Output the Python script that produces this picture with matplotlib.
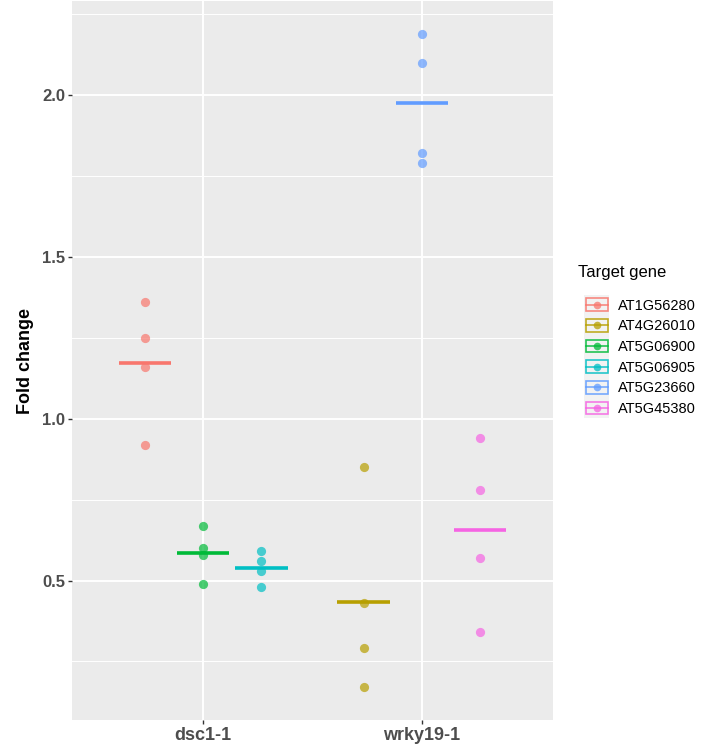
import numpy as np
import matplotlib.pyplot as plt
from matplotlib.legend_handler import HandlerBase
from matplotlib.patches import Rectangle
from matplotlib.lines import Line2D

plt.rcParams['font.family'] = ['Liberation Sans', 'DejaVu Sans']

# genotypes on the x axis
genotypes = ['dsc1-1', 'wrky19-1']

# target genes (legend order), their colours and genotype
genes = ['AT1G56280', 'AT4G26010', 'AT5G06900', 'AT5G06905', 'AT5G23660', 'AT5G45380']
gene_colors = ['#F8766D', '#B79F00', '#00BA38', '#00BFC4', '#619CFF', '#F564E3']
gene_genotype = ['dsc1-1', 'wrky19-1', 'dsc1-1', 'dsc1-1', 'wrky19-1', 'wrky19-1']

# fold change replicates
fc_AT1G56280 = [1.36, 1.25, 1.16, 0.92]
fc_AT4G26010 = [0.85, 0.43, 0.29, 0.17]
fc_AT5G06900 = [0.67, 0.60, 0.58, 0.49]
fc_AT5G06905 = [0.59, 0.56, 0.53, 0.48]
fc_AT5G23660 = [2.19, 2.10, 1.82, 1.79]
fc_AT5G45380 = [0.94, 0.78, 0.57, 0.34]
fold_change = [fc_AT1G56280, fc_AT4G26010, fc_AT5G06900,
               fc_AT5G06905, fc_AT5G23660, fc_AT5G45380]

PANEL = '#EBEBEB'


class CrossbarKey(HandlerBase):
    # ggplot-like key: grey square, outlined crossbar and a dot
    def create_artists(self, legend, orig_handle, xdescent, ydescent,
                       width, height, fontsize, trans):
        c = orig_handle.get_color()
        x0, y0 = -xdescent, -ydescent
        bg = Rectangle((x0, y0 - 2), width, height + 4, facecolor='#F2F2F2',
                       edgecolor='none', transform=trans)
        box = Rectangle((x0 + 1, y0 + height * 0.08), width - 2, height * 0.84,
                        facecolor='none', edgecolor=c, lw=1.2, alpha=0.85,
                        transform=trans)
        mid = Line2D([x0 + 1, x0 + width - 1], [y0 + height / 2] * 2, color=c,
                     lw=1.2, alpha=0.85, transform=trans)
        dot = Line2D([x0 + width / 2], [y0 + height / 2], marker='o', ms=5.5,
                     color=c, mec='none', alpha=0.75, transform=trans)
        return [bg, box, mid, dot]


fig = plt.figure(figsize=(7.09, 7.47), dpi=100)
ax = fig.add_axes([72 / 709, 1 - 720 / 747, (553 - 72) / 709, 719 / 747])
ax.set_facecolor(PANEL)

dodge = 0.8
bar_w = 0.24
handles = []
for gi, g in enumerate(genes):
    geno = gene_genotype[gi]
    group = [h for h, gg in zip(genes, gene_genotype) if gg == geno]
    n = len(group)
    k = group.index(g)
    xc = genotypes.index(geno) + 1 + (k - (n - 1) / 2) * dodge / n
    vals = np.array(fold_change[gi])
    ax.scatter(np.full(len(vals), xc), vals, s=44, color=gene_colors[gi],
               alpha=0.7, linewidths=0, zorder=3)
    ax.hlines(vals.mean(), xc - bar_w / 2, xc + bar_w / 2, color=gene_colors[gi],
              lw=2.6, zorder=4, capstyle='butt')
    handles.append(Line2D([], [], color=gene_colors[gi], label=g))

ax.set_xlim(0.4, 2.6)
ax.set_ylim(0.069, 2.291)
ax.set_xticks([1, 2])
ax.set_xticklabels(genotypes)
ax.set_yticks([0.5, 1.0, 1.5, 2.0])
ax.set_yticklabels(['0.5', '1.0', '1.5', '2.0'])
ax.set_yticks([0.25, 0.75, 1.25, 1.75, 2.25], minor=True)
ax.grid(True, which='major', color='white', lw=1.4)
ax.grid(True, which='minor', axis='y', color='white', lw=0.7)
ax.set_axisbelow(True)
for s in ax.spines.values():
    s.set_visible(False)
ax.tick_params(axis='both', which='major', length=3, width=1, color='#333333',
               pad=2)
ax.tick_params(axis='x', labelsize=13, labelcolor='#4D4D4D')
ax.tick_params(axis='y', labelsize=12, labelcolor='#4D4D4D')
ax.tick_params(which='minor', length=0)
for t in ax.get_xticklabels() + ax.get_yticklabels():
    t.set_fontweight('bold')

ax.set_ylabel('Fold change', fontsize=13, fontweight='bold', labelpad=6)

# legend title drawn separately to get ggplot's wider title gap
fig.text(578 / 709, 1 - 273 / 747, 'Target gene', fontsize=12,
         ha='left', va='center')
leg = fig.legend(handles=handles, loc='upper left',
                 bbox_to_anchor=(577 / 709, 1 - 290 / 747), frameon=False,
                 fontsize=10.5, handlelength=1.7, borderpad=0,
                 handleheight=1.2, labelspacing=0.36, handletextpad=0.6,
                 handler_map={Line2D: CrossbarKey()})

fig.savefig('out.png', dpi=100)
